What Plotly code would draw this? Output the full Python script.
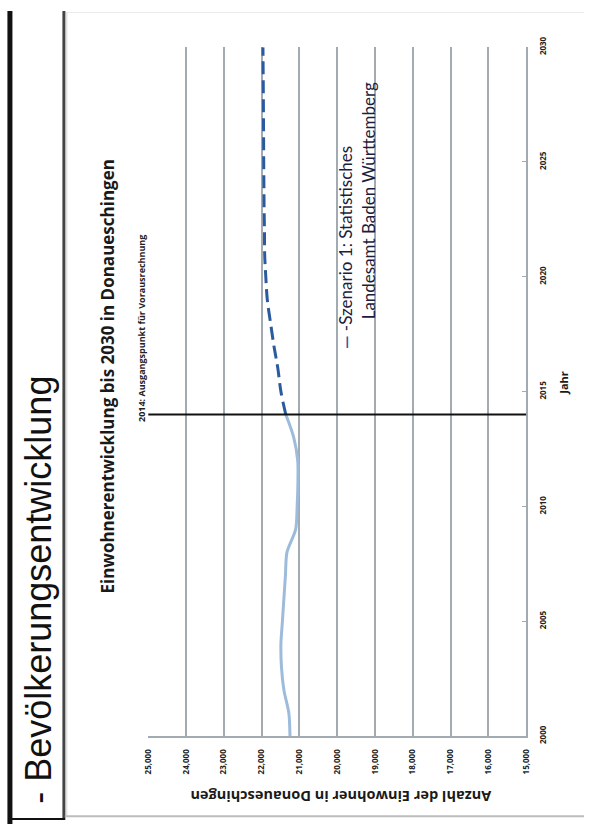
import plotly.graph_objects as go

# ---- data ----
years_hist = [2000, 2001, 2002, 2003, 2004, 2005, 2006, 2007, 2008, 2009, 2010, 2011, 2012, 2013, 2014]
pop_hist = [21250, 21280, 21410, 21475, 21490, 21450, 21410, 21370, 21330, 21100, 21060, 21040, 21045, 21150, 21360]
years_proj = [2014, 2015, 2016, 2017, 2018, 2019, 2020, 2021, 2022, 2023, 2024, 2025, 2026, 2027, 2028, 2029, 2030]
pop_proj = [21360, 21490, 21570, 21675, 21765, 21850, 21890, 21920, 21925, 21935, 21940, 21945, 21948, 21952, 21955, 21960, 21965]
pop_ticks = [15000, 16000, 17000, 18000, 19000, 20000, 21000, 22000, 23000, 24000, 25000]
pop_ticktext = ["15,000", "16,000", "17,000", "18,000", "19,000", "20,000", "21,000", "22,000", "23,000", "24,000", "25,000"]
year_ticks = [2000, 2005, 2010, 2015, 2020, 2025, 2030]
base_year = 2014

title_text = "Einwohnerentwicklung bis 2030 in Donaueschingen"
subtitle_text = "2014: Ausgangspunkt für Vorausrechnung"
legend_line1 = "-Szenario 1: Statistisches"
legend_line2 = "Landesamt Baden Württemberg"
x_title = "Anzahl der Einwohner in Donaueschingen"
y_title = "Jahr"
section_text = "- Bevölkerungsentwicklung"

W, H = 589, 832
def px(x):
    return x / W
def py(y):
    return (H - y) / H

fig = go.Figure()
fig.add_trace(go.Scatter(x=pop_hist, y=years_hist, mode="lines",
                         line=dict(color="#9dbbdb", width=3, shape="spline", smoothing=0.8),
                         showlegend=False, hoverinfo="skip"))
fig.add_trace(go.Scatter(x=pop_proj, y=years_proj, mode="lines",
                         line=dict(color="#2b5b9e", width=3, dash="13px,6px", shape="spline"),
                         showlegend=False, hoverinfo="skip"))

grid_col = "#a3abb2"
bold_font = "Open Sans"
fig.update_layout(
    width=W, height=H,
    margin=dict(l=0, r=0, t=0, b=0),
    paper_bgcolor="white", plot_bgcolor="white",
    font=dict(family=bold_font, color="#1a1a1a"),
    xaxis=dict(domain=[px(145), px(530)], range=[25000, 15000],
               tickvals=pop_ticks, ticktext=["<b>%s</b>" % t for t in pop_ticktext], tickangle=-90,
               tickfont=dict(size=8, family=bold_font, color="#222"),
               showgrid=True, gridcolor=grid_col, gridwidth=1.5,
               showline=True, linecolor=grid_col, linewidth=2,
               ticks="", ticklabelstandoff=8, zeroline=False),
    yaxis=dict(domain=[py(742), py(37)], range=[2000, 2030], side="right",
               tickvals=year_ticks, ticktext=["<b>%d</b>" % t for t in year_ticks], tickangle=-90,
               tickfont=dict(size=8, family=bold_font, color="#222"),
               showgrid=False, showline=True, linecolor=grid_col, linewidth=2,
               ticks="inside", ticklen=4, tickcolor=grid_col, ticklabelstandoff=8,
               zeroline=False),
)

shapes = [
    # base-year marker line
    dict(type="line", xref="x domain", yref="y", x0=0, x1=1, y0=base_year, y1=base_year,
         line=dict(color="#111", width=2)),
    # page frame
    dict(type="line", xref="paper", yref="paper", x0=px(4), x1=px(4), y0=0, y1=1,
         line=dict(color="#111", width=5)),
    dict(type="line", xref="paper", yref="paper", x0=px(59), x1=px(59), y0=py(828), y1=1,
         line=dict(color="#444", width=3)),
    dict(type="line", xref="paper", yref="paper", x0=px(2), x1=px(60), y0=py(827), y1=py(827),
         line=dict(color="#111", width=2)),
    dict(type="line", xref="paper", yref="paper", x0=px(62), x1=px(62), y0=py(824), y1=py(1),
         line=dict(color="#d6d6d6", width=1)),
    dict(type="line", xref="paper", yref="paper", x0=px(60), x1=1, y0=py(824), y1=py(824),
         line=dict(color="#bdbdbd", width=2)),
    dict(type="line", xref="paper", yref="paper", x0=px(62), x1=1, y0=py(1.5), y1=py(1.5),
         line=dict(color="#ebebeb", width=1)),
]
fig.update_layout(shapes=shapes)

ann = [
    dict(text=section_text, x=px(33), y=py(813), xanchor="center", yanchor="bottom",
         textangle=-90, font=dict(family="Liberation Sans", size=36, color="#111")),
    dict(text="<b>" + title_text + "</b>", x=px(103), y=py(374), xanchor="center", yanchor="middle",
         textangle=-90, font=dict(family=bold_font, size=17, color="#1a1a1a")),
    dict(text="<b>" + subtitle_text + "</b>", x=px(138), y=py(325), xanchor="center", yanchor="middle",
         textangle=-90, font=dict(family=bold_font, size=9, color="#222")),
    dict(text='<span style="color:#2b5b9e"><b>—</b></span> ' + legend_line1, x=px(346), y=py(348),
         xanchor="center", yanchor="bottom", textangle=-90,
         font=dict(family="Lato", size=17, color="#1c1c3c")),
    dict(text=legend_line2, x=px(369), y=py(318), xanchor="center", yanchor="bottom", textangle=-90,
         font=dict(family="Lato", size=17, color="#1c1c3c")),
    dict(text="<b>" + x_title + "</b>", x=px(341), y=py(804), xanchor="center", yanchor="middle",
         textangle=180, font=dict(family=bold_font, size=14.5, color="#1a1a1a")),
    dict(text="<b>" + y_title + "</b>", x=px(568), y=py(380), xanchor="center", yanchor="middle",
         textangle=-90, font=dict(family=bold_font, size=11, color="#1a1a1a")),
]
for a in ann:
    a.update(xref="paper", yref="paper", showarrow=False)
fig.update_layout(annotations=ann)

fig.write_html("out.html")
